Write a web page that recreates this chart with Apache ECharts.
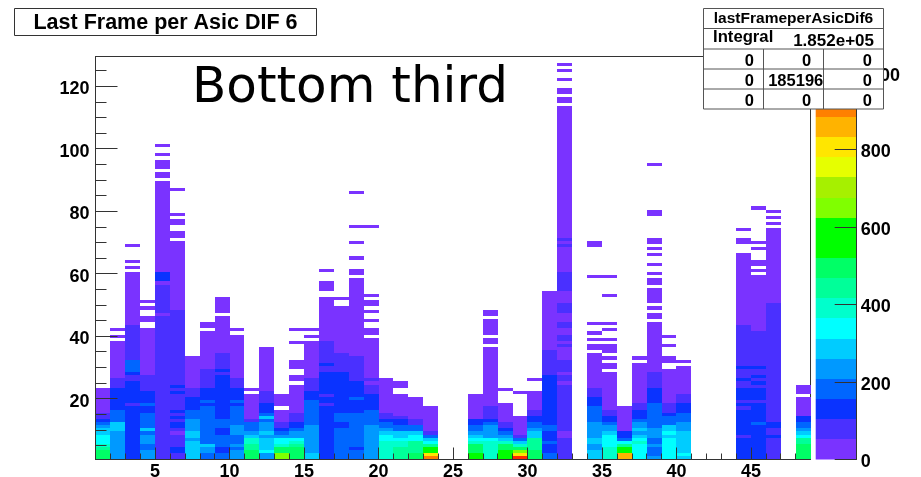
<!DOCTYPE html>
<html>
<head>
<meta charset="utf-8">
<style>html,body{margin:0;padding:0;background:#fff}#c{width:921px;height:477px}</style>
<script src="https://cdn.jsdelivr.net/npm/echarts@6/dist/echarts.min.js"></script>
</head>
<body>
<div id="c"></div>
<script>
// Each ASIC column: runs of [topRow, count] read upward from row 1; count 0 = empty cells.
const asic01=[[3,495],[4,445],[5,390],[8,340],[10,285],[11,235],[12,180],[13,130],[15,80],[23,25]];
const asic02=[[9,235],[12,285],[16,180],[23,130],[26,80],[38,25],[39,0],[40,25],[41,0],[42,25]];
const asic03=[[17,130],[18,80],[25,130],[27,80],[28,130],[30,180],[32,180],[42,80],[43,80],[60,25],[61,0],[62,25],[63,0],[64,25],[68,0],[69,25]];
const asic04=[[3,235],[5,180],[8,235],[9,180],[10,285],[15,180],[17,130],[18,180],[22,130],[27,80],[42,25],[44,0],[46,25],[48,0],[49,25],[50,0],[51,25]];
const asic05=[[46,80],[47,25],[56,80],[57,25],[60,130],[89,25],[90,0],[92,25],[93,0],[96,25],[97,0],[98,25],[100,0],[101,25]];
const asic06=[[2,80],[4,130],[8,80],[9,25],[10,80],[12,130],[13,80],[14,130],[15,80],[16,130],[21,80],[22,130],[23,80],[24,130],[48,80],[70,25],[71,0],[73,25],[75,0],[77,25],[78,0],[79,25],[86,0],[87,25]];
const asic07=[[2,285],[6,285],[7,235],[9,285],[13,235],[16,180],[20,130],[23,80],[33,25]];
const asic08=[[2,180],[4,235],[5,285],[17,180],[18,130],[19,180],[23,130],[29,80],[41,25],[42,0],[44,25]];
const asic09=[[2,180],[4,130],[8,180],[10,130],[13,180],[27,130],[28,80],[29,130],[34,80],[46,25],[47,0],[52,25]];
const asic10=[[3,235],[4,180],[5,235],[8,180],[11,235],[17,180],[18,130],[19,180],[23,130],[26,80],[40,25],[41,0],[42,25]];
const asic11=[[3,495],[5,445],[7,390],[8,285],[9,235],[12,180],[13,80],[21,25],[22,0],[23,25]];
const asic12=[[2,235],[3,340],[7,285],[8,235],[9,285],[12,235],[13,180],[14,285],[15,180],[18,130],[22,80],[36,25]];
const asic13=[[2,650],[4,495],[5,390],[7,340],[8,235],[9,180],[10,130],[12,80],[16,25],[17,0],[21,25]];
const asic14=[[4,495],[5,445],[6,390],[7,340],[9,235],[10,180],[12,130],[15,80],[24,25],[25,0],[26,25],[27,25],[29,0],[32,25],[37,0],[38,25],[41,0],[42,25]];
const asic15=[[2,285],[11,235],[19,180],[22,130],[26,80],[38,25],[39,0],[40,25],[41,0],[42,25]];
const asic16=[[17,130],[18,80],[20,130],[21,80],[28,130],[30,80],[31,130],[38,80],[52,25],[54,0],[57,25],[60,0],[61,25]];
const asic17=[[10,180],[12,130],[15,180],[28,130],[34,80],[49,25],[50,0],[51,0],[52,25]];
const asic18=[[3,180],[4,130],[15,180],[19,130],[20,180],[25,130],[33,80],[58,25],[59,0],[61,25],[64,0],[65,25],[69,0],[70,25],[74,0],[75,25],[85,0],[86,25]];
const asic19=[[11,235],[16,180],[21,130],[24,80],[25,25],[26,80],[39,25],[40,0],[42,25],[44,0],[45,25],[47,0],[48,25],[49,0],[51,25],[52,0],[53,25],[74,0],[75,25]];
const asic20=[[6,390],[8,340],[9,285],[10,235],[12,180],[13,130],[15,80],[26,25]];
const asic21=[[4,445],[6,390],[7,340],[9,285],[11,180],[13,130],[14,80],[21,25],[23,0],[25,25]];
const asic22=[[2,495],[6,445],[8,340],[9,285],[11,180],[13,80],[20,25]];
const asic23=[[1,910],[2,805],[4,600],[5,445],[6,340],[7,285],[8,180],[9,80],[17,25]];
const asic24=[];
const asic25=[];
const asic26=[[2,600],[5,495],[6,390],[7,340],[8,285],[9,235],[11,180],[13,130],[21,25]];
const asic27=[[5,390],[6,390],[7,340],[11,235],[12,180],[13,130],[17,80],[36,25],[37,0],[39,25],[40,0],[45,25],[46,0],[48,25]];
const asic28=[[3,600],[5,495],[6,390],[7,285],[8,235],[9,180],[10,130],[12,80],[18,25],[22,0],[23,25]];
const asic29=[[1,1015],[2,805],[3,650],[4,495],[5,390],[6,285],[7,180],[8,80],[14,25],[21,0],[22,25]];
const asic30=[[3,495],[7,445],[9,285],[10,235],[12,180],[14,130],[16,80],[22,25],[25,0],[26,25]];
const asic31=[[2,180],[5,130],[6,180],[9,130],[11,180],[27,130],[35,80],[54,25]];
const asic32=[[7,80],[9,25],[24,80],[25,25],[27,80],[28,25],[32,80],[33,25],[36,25],[37,80],[38,25],[40,80],[42,25],[44,80],[47,25],[50,80],[54,25],[57,80],[60,80],[68,25],[69,80],[70,25],[71,80],[113,25],[114,0],[116,25],[117,0],[119,25],[121,0],[122,25],[124,0],[125,25],[126,0],[127,25]];
const asic33=[];
const asic34=[[3,285],[5,235],[7,285],[12,235],[17,180],[20,130],[23,80],[34,25],[35,0],[37,25],[38,0],[39,25],[40,0],[41,25],[43,0],[44,25],[58,0],[59,25],[68,0],[70,25]];
const asic35=[[4,390],[8,340],[9,285],[11,235],[12,180],[14,130],[16,80],[28,25],[29,0],[31,25],[32,0],[33,25],[34,0],[37,25],[38,0],[39,25],[41,0],[42,25],[43,0],[44,25],[52,0],[53,25],[58,0],[59,25]];
const asic36=[[2,860],[4,600],[5,445],[6,340],[7,180],[9,130],[17,25]];
const asic37=[[5,340],[6,390],[7,340],[8,285],[9,235],[10,285],[12,235],[13,180],[16,130],[18,80],[31,25],[32,0],[33,25]];
const asic38=[[1,235],[4,180],[5,235],[7,180],[10,235],[18,180],[23,130],[28,80],[44,25],[45,0],[47,25],[48,0],[49,25],[50,0],[55,25],[56,0],[58,25],[59,0],[60,25],[62,0],[63,25],[65,0],[66,25],[67,0],[68,25],[69,0],[71,25],[78,0],[80,25],[94,0],[95,25]];
const asic39=[[6,340],[7,340],[8,285],[9,340],[11,285],[14,180],[15,130],[18,80],[29,25],[31,0],[33,25],[36,0],[37,25],[39,0],[40,25]];
const asic40=[[1,285],[2,340],[9,285],[12,235],[15,180],[18,130],[21,80],[30,25],[31,0],[32,25]];
const asic41=[];
const asic42=[];
const asic43=[];
const asic44=[[7,130],[8,80],[16,130],[17,80],[18,130],[19,80],[23,130],[25,80],[26,130],[29,80],[30,130],[43,80],[66,25],[68,0],[69,0],[71,25],[72,0],[73,0],[74,25]];
const asic45=[[11,130],[12,180],[18,130],[19,80],[23,130],[24,80],[25,130],[26,80],[27,130],[29,80],[30,130],[41,80],[59,25],[60,0],[61,25],[62,0],[64,25],[67,0],[68,25],[69,0],[70,25],[80,0],[81,25]];
const asic46=[[7,80],[8,130],[10,80],[12,130],[50,80],[74,25],[75,0],[76,25],[77,0],[78,25],[79,0],[80,25]];
const asic47=[];
const asic48=[[5,495],[7,445],[8,340],[9,285],[10,235],[12,180],[14,130],[20,25],[21,0],[24,25]];
const asicColumns=[asic01,asic02,asic03,asic04,asic05,asic06,asic07,asic08,asic09,asic10,asic11,asic12,asic13,asic14,asic15,asic16,asic17,asic18,asic19,asic20,asic21,asic22,asic23,asic24,asic25,asic26,asic27,asic28,asic29,asic30,asic31,asic32,asic33,asic34,asic35,asic36,asic37,asic38,asic39,asic40,asic41,asic42,asic43,asic44,asic45,asic46,asic47,asic48];

const xMajorTicks=[5,10,15,20,25,30,35,40,45];
const xMinorTicks=[2,3,4,6,7,8,9,11,12,13,14,16,17,18,19,21,22,23,24,26,27,28,29,31,32,33,34,36,37,38,39,41,42,43,44,46,47,48];
const yMajorTicks=[20,40,60,80,100,120];
const yMinorTicks=[5,10,15,25,30,35,45,50,55,65,70,75,85,90,95,105,110,115,125];
const zTicks=[0,200,400,600,800,1000];
const zLabels=[0,200,400,600,800];
const contourStep=52;
const palette=['#7a33ff','#4a30ff','#0a33ff','#0066ff','#0099ff','#00ccff','#00ffff','#00ffcc','#00ff99','#00ff66','#00ff00','#00ff00','#80ff00','#a6f000','#e6ff00','#ffe600','#ffb300','#ff8000','#ff4d00','#ff2a00'];
const statRows=[['0','0','0'],['0','185196','0'],['0','0','0']];

const cells=[];
asicColumns.forEach(function(runs,i){
  let row=1;
  runs.forEach(function(run){
    for(;row<=run[0];row++){ if(run[1]>0) cells.push([i+1,row,run[1]]); }
  });
});
const bands=palette.map(function(c,i){return [i*contourStep,(i+1)*contourStep];});

const font='"Liberation Sans", Arial, sans-serif';
const labelStyle={color:'#000',fontFamily:font,fontWeight:'bold',fontSize:18};
const shifted={formatter:'{a|{value}}',rich:{a:{color:'#000',fontFamily:font,fontWeight:'bold',fontSize:18,padding:[6,0,0,0]}}};
const lineC='#333';

function renderCell(params,api){
  const a=api.coord([api.value(0),api.value(1)-0.5]);
  const b=api.coord([api.value(0)+1,api.value(1)+0.5]);
  const x0=Math.round(a[0]),x1=Math.round(b[0]),y0=Math.round(b[1]),y1=Math.round(a[1]);
  return {type:'rect',shape:{x:x0,y:y0,width:x1-x0,height:y1-y0},
    style:{fill:palette[Math.min(19,Math.floor(api.value(2)/contourStep))]}};
}
function renderBand(params,api){
  const a=api.coord([0,api.value(0)]);
  const b=api.coord([1,api.value(1)]);
  const y0=Math.round(b[1]),y1=Math.round(a[1]);
  return {type:'rect',shape:{x:a[0],y:y0,width:b[0]-a[0],height:y1-y0},
    style:{fill:palette[params.dataIndex]}};
}
function txt(t,x,y,align,size,extra){
  return Object.assign({type:'text',z:100,style:{text:t,x:x,y:y,textAlign:align,textVerticalAlign:'middle',
    font:'bold '+size+'px '+font,fill:'#000'}},extra||{});
}
function ln(x1,y1,x2,y2){
  return {type:'line',z:100,shape:{x1:x1,y1:y1,x2:x2,y2:y2},style:{stroke:'#555',lineWidth:1}};
}
const statCols=[749.3,806.7,867.3];
const statY=[61,81.5,101];
const gfx=[
  {type:'rect',z:99,shape:{x:14.5,y:8.5,width:302,height:27},style:{fill:'#fff',stroke:'#333',lineWidth:1}},
  txt('Last Frame per Asic DIF 6',165.5,23.5,'center',21.5),
  {type:'text',z:98,style:{text:'Bottom third',x:192,y:89,textAlign:'left',textVerticalAlign:'middle',font:'50px "DejaVu Sans"',fill:'#000'}},
  txt('1000',860,76,'left',18,{z:50}),
  {type:'rect',z:99,shape:{x:703.5,y:8.5,width:180,height:100.5},style:{fill:'#fff',stroke:'#555',lineWidth:1}},
  ln(703.5,28.5,883.5,28.5),ln(703.5,49,883.5,49),ln(703.5,69,883.5,69),ln(703.5,89,883.5,89),
  ln(763.5,49,763.5,109),ln(823.5,49,823.5,109),
  txt('lastFrameperAsicDif6',793.5,19,'center',15.5),
  txt('Integral',713,37.5,'left',16.7),
  txt('1.852e+05',874,41,'right',17)
];
statRows.forEach(function(r,ri){
  r.forEach(function(v,ci){
    const cx=(v==='185196')?795.7:statCols[ci];
    gfx.push(txt(v,cx,statY[ri],'center',16.5));
  });
});

const chart=echarts.init(document.getElementById('c'),null,{renderer:'canvas'});
chart.setOption({
  animation:false,
  backgroundColor:'#fff',
  grid:[
    {left:95.5,top:56.5,width:715,height:403,show:true,borderColor:lineC,borderWidth:1,backgroundColor:'transparent',outerBoundsMode:'none'},
    {left:815.7,top:56.5,width:41,height:403,show:false,outerBoundsMode:'none'}
  ],
  xAxis:[
    {type:'value',gridIndex:0,position:'bottom',min:1,max:49,z:5,
      axisLine:{show:true,onZero:false,lineStyle:{color:lineC}},
      axisTick:{show:true,inside:true,length:12,customValues:xMajorTicks,lineStyle:{color:lineC}},
      axisLabel:{show:true,customValues:xMajorTicks,margin:4,hideOverlap:false,...labelStyle},
      splitLine:{show:false}},
    {type:'value',gridIndex:0,position:'bottom',min:1,max:49,z:5,
      axisLine:{show:false,onZero:false},
      axisTick:{show:true,inside:true,length:6,customValues:xMinorTicks,lineStyle:{color:lineC}},
      axisLabel:{show:false},splitLine:{show:false}},
    {type:'value',gridIndex:1,min:0,max:1,show:false}
  ],
  yAxis:[
    {type:'value',gridIndex:0,position:'left',min:0.5,max:129.5,z:5,
      axisLine:{show:true,onZero:false,lineStyle:{color:lineC}},
      axisTick:{show:true,inside:true,length:22,customValues:yMajorTicks,lineStyle:{color:lineC}},
      axisLabel:{show:true,customValues:yMajorTicks,margin:6,...shifted},
      splitLine:{show:false}},
    {type:'value',gridIndex:0,position:'left',min:0.5,max:129.5,z:5,
      axisLine:{show:false,onZero:false},
      axisTick:{show:true,inside:true,length:11,customValues:yMinorTicks,lineStyle:{color:lineC}},
      axisLabel:{show:false},splitLine:{show:false}},
    {type:'value',gridIndex:1,position:'right',min:0,max:1040,z:5,
      axisLine:{show:true,onZero:false,lineStyle:{color:lineC}},
      axisTick:{show:true,inside:true,length:22,customValues:zTicks,lineStyle:{color:lineC}},
      axisLabel:{show:true,customValues:zLabels,margin:4,...shifted},
      splitLine:{show:false}}
  ],
  series:[
    {type:'custom',xAxisIndex:0,yAxisIndex:0,data:cells,renderItem:renderCell,encode:{x:0,y:1},clip:true,z:2,silent:true},
    {type:'custom',xAxisIndex:2,yAxisIndex:2,data:bands,renderItem:renderBand,encode:{y:[0,1]},clip:true,z:2,silent:true}
  ],
  graphic:{elements:gfx}
});
</script>
</body>
</html>
